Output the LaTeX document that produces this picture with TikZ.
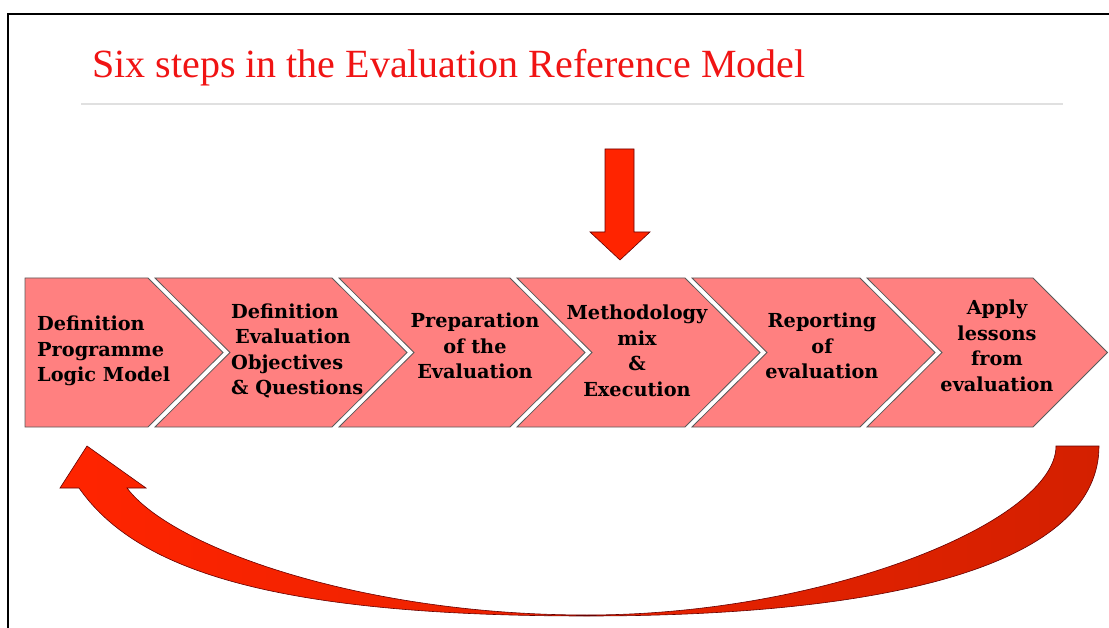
\documentclass[tikz,border=0pt]{standalone}
\usepackage{fontspec}
\setmainfont{Liberation Serif}
\newfontfamily\boxfont{DejaVu Serif}
\definecolor{titlered}{RGB}{240,20,20}
\definecolor{salmon}{RGB}{255,128,128}
\definecolor{chevline}{RGB}{90,90,90}
\definecolor{arrowred}{RGB}{255,36,0}
\definecolor{arrowdark}{RGB}{212,32,0}
\definecolor{rulegray}{RGB}{224,224,224}
\begin{document}
\begin{tikzpicture}[x=1pt,y=-1pt,
  chev/.style={fill=salmon, draw=chevline, line width=0.8pt, line join=miter},
  steptext/.style={font=\boxfont\bfseries\fontsize{19.3}{25.5}\selectfont, text=black, inner sep=0pt},
  bigarrow/.style={draw=black!60!red, line width=0.6pt, line join=miter}]
\useasboundingbox (0,0) rectangle (1109,628);
\fill[white] (0,0) rectangle (1109,628);
% frame
\draw[line width=1.3pt] (8,628) -- (8,14) -- (1109,14);
% title and rule
\node[anchor=base west, inner sep=0pt, text=titlered, font=\fontsize{40}{48}\selectfont] (title) at (92,78) {Six steps in the Evaluation Reference Model};
\draw[rulegray, line width=1.6pt] (81,104) -- (1063,104);
% down arrow
\draw[bigarrow, fill=arrowred] (605,149) -- (634,149) -- (634,232) -- (650,232) -- (620,260) -- (590,232) -- (605,232) -- cycle;
% chevrons
\draw[chev] (25,278) -- (148,278) -- (223,352.5) -- (148,427) -- (25,427) -- cycle;
\draw[chev] (155,278) -- (332,278) -- (407,352.5) -- (332,427) -- (155,427) -- (230,352.5) -- cycle;
\draw[chev] (339,278) -- (510,278) -- (585,352.5) -- (510,427) -- (339,427) -- (414,352.5) -- cycle;
\draw[chev] (517,278) -- (685,278) -- (760,352.5) -- (685,427) -- (517,427) -- (592,352.5) -- cycle;
\draw[chev] (692,278) -- (860,278) -- (935,352.5) -- (860,427) -- (692,427) -- (767,352.5) -- cycle;
\draw[chev] (867,278) -- (1033,278) -- (1107.5,352.5) -- (1033,427) -- (867,427) -- (942,352.5) -- cycle;
% texts
\node[steptext, align=left, anchor=west] (s1) at (37,351) {Definition\\Programme\\Logic Model};
\node[steptext, align=left, anchor=west] (s2) at (231,351) {Definition\\\hspace{4pt}Evaluation\\Objectives\\\& Questions};
\node[steptext, align=center] (s3) at (475,346) {Preparation\\of the\\Evaluation};
\node[steptext, align=center] (s4) at (637,351) {Methodology\\mix\\\&\\Execution};
\node[steptext, align=center] (s5) at (822,346) {Reporting\\of\\evaluation};
\node[steptext, align=center] (s6) at (997,346) {Apply\\lessons\\from\\evaluation};
% curved return arrow
\draw[bigarrow, left color=arrowred, right color=arrowdark, shading angle=90]
  (1099,446) .. controls (1099,556) and (917,616) .. (587,616)
  .. controls (267,616) and (135,568) .. (79,488)
  -- (60,488) -- (87,446) -- (146,488) -- (127,488)
  .. controls (172,548) and (362,615) .. (587,615)
  .. controls (827,615) and (1056,521) .. (1056,446)
  -- cycle;
\end{tikzpicture}
\end{document}
